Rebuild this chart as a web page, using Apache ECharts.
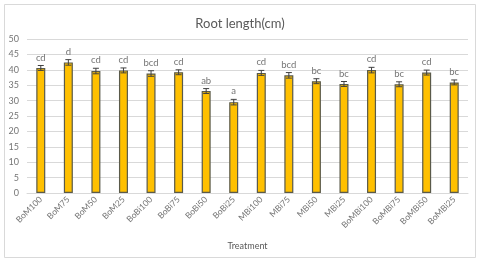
<!DOCTYPE html>
<html><head><meta charset="utf-8">
<script src="https://cdn.jsdelivr.net/npm/echarts@6/dist/echarts.min.js"></script>
<style>html,body{margin:0;padding:0;background:#fff}#c{width:480px;height:263px}</style>
</head><body><div id="c"></div>
<script>
var categories = ['BoM100','BoM75','BoM50','BoM25','BoBi100','BoBi75','BoBi50','BoBi25','MBi100','MBi75','MBi50','MBi25','BoMBi100','BoMBi75','BoMBi50','BoMBi25'];
var values = [40.6, 42.4, 39.6, 39.8, 38.8, 39.2, 33.1, 29.5, 39.0, 38.2, 36.3, 35.4, 39.9, 35.3, 39.1, 35.9];
var errors = [0.8, 0.9, 0.9, 0.8, 0.9, 0.8, 0.8, 0.9, 0.8, 0.9, 0.8, 0.8, 0.9, 0.8, 0.8, 0.8];
var letters = ['cd','d','cd','cd','bcd','cd','ab','a','cd','bcd','bc','bc','cd','bc','cd','bc'];
var yTicks = [0,5,10,15,20,25,30,35,40,45,50];

var chart = echarts.init(document.getElementById('c'), null, {renderer:'canvas'});
var txt = '#595959', lab = '#757575', ff = 'Lato';
chart.setOption({
  animation:false,
  graphic:[{type:'rect', shape:{x:4.5,y:4.5,width:471,height:253}, style:{fill:'none', stroke:'#d9d9d9', lineWidth:1}, silent:true}],
  title:{text:'Root length(cm)', left:'center', top:12, textStyle:{fontFamily:ff, fontSize:13, fontWeight:'normal', color:txt}},
  grid:{left:27, right:12, top:39, bottom:70, containLabel:false},
  xAxis:{type:'category', data:categories, name:'Treatment', nameLocation:'middle', nameGap:49,
    nameTextStyle:{fontFamily:ff, fontSize:9, color:txt},
    axisLine:{lineStyle:{color:'#d9d9d9'}}, axisTick:{show:false},
    axisLabel:{rotate:45, interval:0, fontFamily:ff, fontSize:8.5, color:lab, margin:5}},
  yAxis:{type:'value', min:0, max:50, interval:5,
    axisLabel:{fontFamily:ff, fontSize:9, color:lab, margin:8},
    axisLine:{show:false}, axisTick:{show:false},
    splitLine:{lineStyle:{color:'#d9d9d9'}}},
  series:[
    {type:'bar', data:values, barWidth:9, itemStyle:{color:'#FFC000', borderColor:'#5a5a4a', borderWidth:1.2}},
    {type:'custom', data:values.map(function(v,i){return [i, v, errors[i], letters[i]];}),
      renderItem:function(params, api){
        var i=api.value(0), v=api.value(1), e=api.value(2);
        var hi=api.coord([i, v+e]), lo=api.coord([i, v-e]);
        var x=hi[0], w=3;
        var st={stroke:'#404040', lineWidth:1};
        return {type:'group', children:[
          {type:'line', shape:{x1:x,y1:hi[1],x2:x,y2:lo[1]}, style:st},
          {type:'line', shape:{x1:x-w,y1:hi[1],x2:x+w,y2:hi[1]}, style:st},
          {type:'line', shape:{x1:x-w,y1:lo[1],x2:x+w,y2:lo[1]}, style:st},
          {type:'text', x:x, y:hi[1]-3, style:{text:letters[params.dataIndex], align:'center', verticalAlign:'bottom', fontFamily:ff, fontSize:9.5, fill:lab}}
        ]};
      }, z:5}
  ]
});
</script></body></html>
